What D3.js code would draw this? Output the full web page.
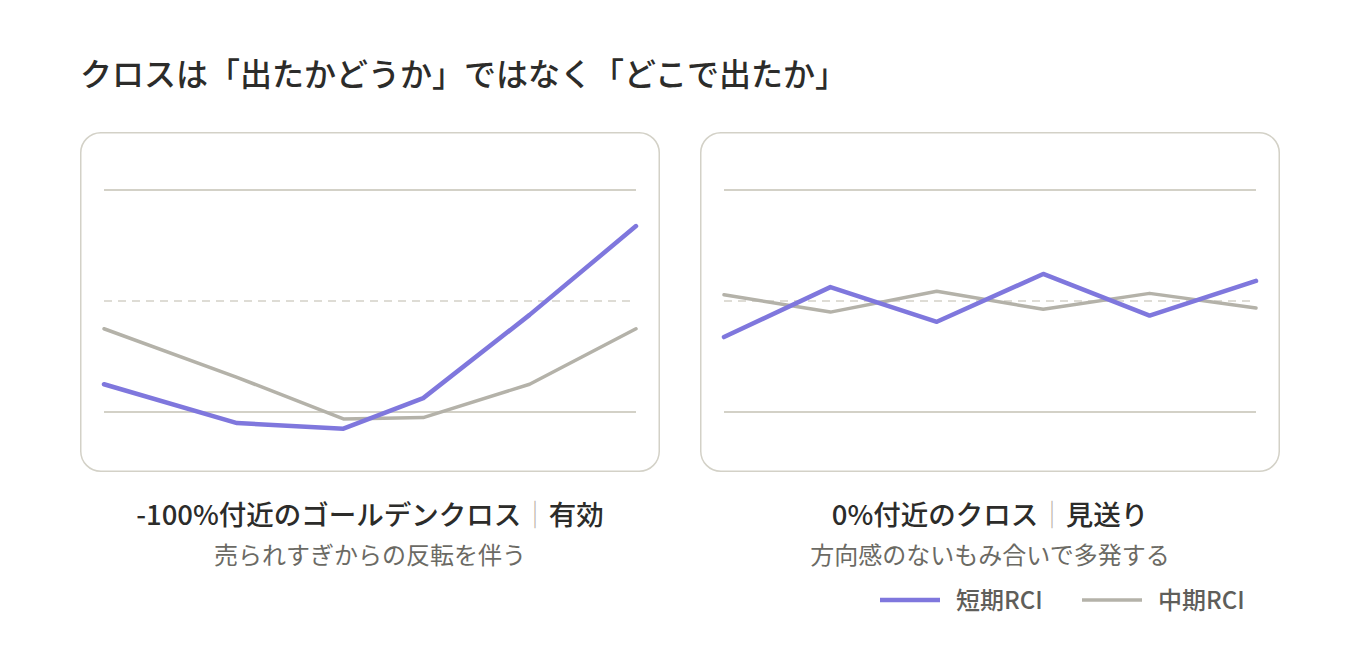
<!DOCTYPE html>
<html>
<head>
<meta charset="utf-8">
<title>RCI cross</title>
<style>
  body { margin: 0; background: #ffffff; }
  svg { display: block; }
  text { font-family: "Noto Sans CJK JP", "Noto Sans", sans-serif; }
</style>
</head>
<body>
<script src="https://cdn.jsdelivr.net/npm/d3@7"></script>
<script>
// data
var titleText = "クロスは「出たかどうか」ではなく「どこで出たか」";

var leftX     = [0, 5, 9, 12, 16, 20];
var leftShort = [-60, -88, -92, -70, -10, 54];
var leftMid   = [-20, -55, -85, -84, -60, -20];

var rightX     = [0, 1, 2, 3, 4, 5];
var rightShort = [-26, 10, -15, 19.5, -10.5, 14.5];
var rightMid   = [4.5, -8, 7, -6, 5.5, -5];

var gridLevels = [80, -80];
var zeroLevel  = 0;

var panelTitles = ["-100%付近のゴールデンクロス", "0%付近のクロス"];
var panelVerdicts = ["有効", "見送り"];
var panelNotes = ["売られすぎからの反転を伴う", "方向感のないもみ合いで多発する"];

var seriesNames = ["短期RCI", "中期RCI"];

var purple = "#7f77dd", grey = "#b4b2a9", gridColor = "#d3d1c7";

var W = 1360, H = 660;
var svg = d3.select("body").append("svg")
    .attr("width", W)
    .attr("height", H);

svg.append("text")
    .attr("x", 80)
    .attr("y", 86)
    .attr("font-size", 32)
    .attr("font-weight", 500)
    .attr("fill", "#2c2c2a")
    .text(titleText);

var panelW = 580, panelH = 340;
var panels = [
    {x0: 80,  xs: leftX,  short: leftShort,  mid: leftMid},
    {x0: 700, xs: rightX, short: rightShort, mid: rightMid}
];

var y = d3.scaleLinear().domain([-80, 80]).range([280, 58]);

panels.forEach(function(p, i){
    var g = svg.append("g").attr("transform", "translate(" + p.x0 + ",132)");

    g.append("rect")
        .attr("x", 0.75).attr("y", 0.75)
        .attr("width", panelW - 1.5).attr("height", panelH - 1.5)
        .attr("rx", 20)
        .attr("fill", "#fff")
        .attr("stroke", gridColor)
        .attr("stroke-width", 1.5);

    var x = d3.scaleLinear().domain(d3.extent(p.xs)).range([24, 556]);

    g.selectAll(".grid")
        .data(gridLevels)
        .enter().append("line")
        .attr("x1", 24).attr("x2", 556)
        .attr("y1", function(d){ return y(d); })
        .attr("y2", function(d){ return y(d); })
        .attr("stroke", gridColor)
        .attr("stroke-width", 2);

    g.append("line")
        .attr("x1", 24).attr("x2", 556)
        .attr("y1", y(zeroLevel)).attr("y2", y(zeroLevel))
        .attr("stroke", gridColor)
        .attr("stroke-width", 1.5)
        .attr("stroke-dasharray", "8,6");

    var line = d3.line()
        .x(function(d){ return x(d[0]); })
        .y(function(d){ return y(d[1]); });

    g.append("path")
        .datum(d3.zip(p.xs, p.mid))
        .attr("d", line)
        .attr("fill", "none")
        .attr("stroke", grey)
        .attr("stroke-width", 3.5)
        .attr("stroke-linecap", "round")
        .attr("stroke-linejoin", "round");

    g.append("path")
        .datum(d3.zip(p.xs, p.short))
        .attr("d", line)
        .attr("fill", "none")
        .attr("stroke", purple)
        .attr("stroke-width", 4.5)
        .attr("stroke-linecap", "round")
        .attr("stroke-linejoin", "round");

    // captions
    var cx = p.x0 + panelW / 2;
    var cap = svg.append("text")
        .attr("x", cx)
        .attr("y", 525)
        .attr("text-anchor", "middle")
        .attr("font-size", 27.5)
        .attr("font-weight", 500)
        .attr("fill", "#2c2c2a");
    cap.append("tspan").text(panelTitles[i]);
    cap.append("tspan").attr("fill", "#b9b3a8").attr("font-weight", 300).text("｜");
    cap.append("tspan").text(panelVerdicts[i]);

    svg.append("text")
        .attr("x", cx)
        .attr("y", 564)
        .attr("text-anchor", "middle")
        .attr("font-size", 24)
        .attr("fill", "#6b6a64")
        .text(panelNotes[i]);
});

// legend
var legend = svg.append("g").attr("transform", "translate(880,600)");
[purple, grey].forEach(function(c, i){
    var lg = legend.append("g").attr("transform", "translate(" + (i * 202) + ",0)");
    lg.append("line")
        .attr("x1", 0).attr("x2", 60)
        .attr("stroke", c)
        .attr("stroke-width", i === 0 ? 4.5 : 3.5);
    lg.append("text")
        .attr("x", 76)
        .attr("y", 9)
        .attr("font-size", 24)
        .attr("font-weight", 500)
        .attr("fill", "#5f5e5a")
        .text(seriesNames[i]);
});
</script>
</body>
</html>
